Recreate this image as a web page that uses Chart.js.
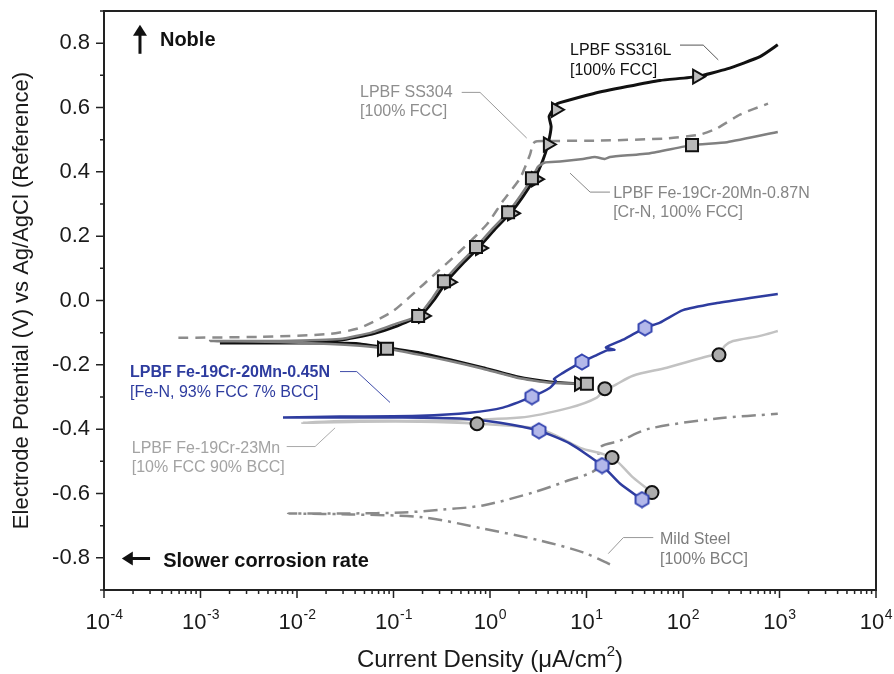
<!DOCTYPE html>
<html>
<head>
<meta charset="utf-8">
<title>Potentiodynamic polarisation</title>
<script src="https://cdn.jsdelivr.net/npm/chart.js@4.4.0/dist/chart.umd.min.js"></script>
<style>
    body { margin: 0; background: #fff; }
    #wrap { width: 894px; height: 674px; }
</style>
</head>
<body>
<div id="wrap"><canvas id="polarisation-chart"></canvas></div>
<script>
// [current density (uA/cm2), potential (V vs Ag/AgCl)] - cathodic branch first, then anodic
const ss316L = [
    [8.36, -0.259], [4.19, -0.253], [1.905, -0.237], [0.846, -0.209], [0.385, -0.184],
    [0.188, -0.163], [0.0857, -0.147], [0.045, -0.135], [0.028, -0.132], [0.0107, -0.132],
    [0.00159, -0.132],
    [0.0107, -0.129], [0.028, -0.123], [0.06, -0.104], [0.11, -0.079], [0.193, -0.045],
    [0.268, 0.005], [0.357, 0.060], [0.526, 0.116], [0.77, 0.166], [1.13, 0.222],
    [1.65, 0.274], [2.2, 0.324], [2.9, 0.380], [3.5, 0.433], [3.98, 0.485],
    [4.3, 0.54], [4.1, 0.572], [4.5, 0.594], [4.83, 0.609], [5.31, 0.615],
    [11.7, 0.643], [26.3, 0.665], [57.7, 0.684], [140, 0.696], [286, 0.72],
    [629, 0.758], [960, 0.795]
];
const ss316LMarks = [
    [0.076, -0.150], [8.36, -0.259], [0.202, -0.048], [0.376, 0.057], [0.788, 0.163],
    [1.69, 0.271], [3.0, 0.377], [3.98, 0.485], [4.83, 0.593], [140, 0.696]
];

const ss304 = [
    [0.00059, -0.116], [0.0041, -0.113], [0.022, -0.104], [0.045, -0.085], [0.099, -0.033],
    [0.222, 0.060], [0.489, 0.153], [0.93, 0.237], [1.36, 0.309], [2.05, 0.380],
    [2.6, 0.454], [2.79, 0.488], [3.07, 0.495], [13.8, 0.497], [68, 0.504],
    [150, 0.516], [225, 0.535], [389, 0.578], [760, 0.612]
];

const crN087 = [
    [10.1, -0.259], [4.19, -0.256], [1.905, -0.240], [0.846, -0.212], [0.385, -0.188],
    [0.188, -0.169], [0.0857, -0.150], [0.045, -0.141], [0.022, -0.135], [0.0067, -0.129],
    [0.00126, -0.126],
    [0.0067, -0.126], [0.028, -0.120], [0.06, -0.099], [0.109, -0.071], [0.18, -0.048],
    [0.25, 0.005], [0.333, 0.060], [0.49, 0.116], [0.716, 0.166], [1.05, 0.222],
    [1.54, 0.274], [2.05, 0.324], [2.72, 0.380], [3.14, 0.416], [3.71, 0.429],
    [5.31, 0.432], [9.2, 0.44], [12.2, 0.446], [15.5, 0.440], [17.5, 0.446],
    [45.5, 0.458], [124, 0.483], [286, 0.492], [960, 0.524]
];
const crN087Marks = [
    [0.0857, -0.150], [10.1, -0.259], [0.18, -0.048], [0.333, 0.060], [0.716, 0.166],
    [1.54, 0.274], [2.72, 0.380], [124, 0.483]
];

const feN045 = [
    [37.6, -0.619], [22.2, -0.569], [14.5, -0.513], [6.75, -0.445], [3.22, -0.405],
    [1.27, -0.380], [0.489, -0.367], [0.117, -0.364], [0.028, -0.364], [0.00716, -0.364],
    [0.028, -0.361], [0.188, -0.358], [0.62, -0.349], [1.36, -0.333], [2.72, -0.299],
    [4.19, -0.271], [4.83, -0.25], [4.6, -0.244], [5.71, -0.225], [6.75, -0.212],
    [8.98, -0.191], [12.2, -0.172], [16.3, -0.155], [19.5, -0.153], [15.9, -0.146],
    [25, -0.119], [40.4, -0.085], [57.7, -0.069], [100, -0.030], [225, -0.008],
    [494, 0.008], [960, 0.020]
];
const feN045Marks = [
    [2.72, -0.299], [8.98, -0.191], [40.4, -0.085], [3.22, -0.405], [14.5, -0.513], [37.6, -0.619]
];

const cr23Mn = [
    [47.7, -0.597], [30.3, -0.550], [18.4, -0.488], [8.6, -0.458], [5.31, -0.426],
    [3.07, -0.398], [0.733, -0.383], [0.188, -0.377], [0.045, -0.377], [0.0113, -0.380],
    [0.045, -0.374], [0.188, -0.374], [2.05, -0.364], [6.75, -0.333], [12.8, -0.302],
    [15.5, -0.274], [18.4, -0.268], [30.3, -0.234], [68, -0.209], [190, -0.172],
    [236, -0.169], [271, -0.141], [330, -0.126], [629, -0.110], [960, -0.095]
];
const cr23MnMarks = [
    [0.733, -0.383], [15.5, -0.274], [236, -0.169], [18.4, -0.488], [47.7, -0.597]
];

const mildSteel = [
    [17.5, -0.820], [9.2, -0.783], [3.30, -0.746], [0.846, -0.709], [0.202, -0.674],
    [0.0355, -0.665], [0.00807, -0.662],
    [0.0355, -0.662], [0.125, -0.659], [0.326, -0.650], [0.846, -0.637], [2.79, -0.597],
    [5.98, -0.563], [12.8, -0.523], [13.8, -0.457], [22.2, -0.436], [45.5, -0.398],
    [225, -0.367], [960, -0.352]
];

const yTicks = [-0.8, -0.6, -0.4, -0.2, 0.0, 0.2, 0.4, 0.6, 0.8];
const yMinorTicks = [-0.9, -0.7, -0.5, -0.3, -0.1, 0.1, 0.3, 0.5, 0.7, 0.9];
const xDecades = [-4, -3, -2, -1, 0, 1, 2, 3, 4];

const FONT = "'Liberation Sans', Arial, Helvetica, sans-serif";
const BLUE = '#2e3c9f';

// labels with leader lines, placed in data units
const notes = [
    { lines: ['LPBF SS316L', '[100% FCC]'], at: [6.75, 0.763], color: '#111', lead: '#555',
      leader: [[93.1, 0.794], [162, 0.794], [232, 0.748]] },
    { lines: ['LPBF SS304', '[100% FCC]'], at: [0.045, 0.634], color: '#8e8e8e', lead: '#999',
      leader: [[0.509, 0.647], [0.788, 0.647], [2.40, 0.505]] },
    { lines: ['LPBF Fe-19Cr-20Mn-0.87N', '[Cr-N, 100% FCC]'], at: [18.9, 0.319], color: '#858585', lead: '#888',
      leader: [[6.75, 0.396], [10.9, 0.337], [17.5, 0.337]] },
    { lines: ['LPBF Fe-19Cr-20Mn-0.45N', '[Fe-N, 93% FCC 7% BCC]'], at: [1.86e-4, -0.239], color: BLUE, lead: '#3d4aa8',
      bold: true, leader: [[0.0279, -0.221], [0.0416, -0.221], [0.092, -0.317]] },
    { lines: ['LPBF Fe-19Cr-23Mn', '[10% FCC 90% BCC]'], at: [1.94e-4, -0.474], color: '#a3a3a3', lead: '#aaa',
      leader: [[0.00782, -0.454], [0.0154, -0.454], [0.0248, -0.396]] },
    { lines: ['Mild Steel', '[100% BCC]'], at: [57.8, -0.758], color: '#7d7d7d', lead: '#999',
      leader: [[49.2, -0.737], [24.1, -0.737], [16.8, -0.787]] }
];

function pts(arr) {
    return arr.map(p => ({ x: p[0], y: p[1] }));
}

function hexagon(size, fill, stroke) {
    const c = document.createElement('canvas');
    c.width = c.height = size;
    const g = c.getContext('2d');
    const r = size / 2 - 1.5;
    g.beginPath();
    for (let k = 0; k < 6; k++) {
        const a = Math.PI / 3 * k - Math.PI / 2;
        g.lineTo(size / 2 + r * Math.cos(a), size / 2 + r * Math.sin(a));
    }
    g.closePath();
    g.fillStyle = fill;
    g.fill();
    g.lineWidth = 2;
    g.strokeStyle = stroke;
    g.stroke();
    return c;
}

function curve(data, color, width, dash, order, tension) {
    return {
        data: pts(data), showLine: true, borderColor: color, borderWidth: width,
        borderDash: dash || [], pointRadius: 0, tension: tension, order: order
    };
}

function marks(data, style, radius, fill, stroke, order, rotation) {
    return {
        data: pts(data), showLine: false, pointStyle: style, pointRadius: radius,
        backgroundColor: fill, borderColor: stroke, borderWidth: 2,
        rotation: rotation || 0, order: order
    };
}

function arrow(ctx, x0, y0, x1, y1) {
    const ang = Math.atan2(y1 - y0, x1 - x0);
    const hl = 11, hw = 7;
    ctx.beginPath();
    ctx.moveTo(x0, y0);
    ctx.lineTo(x1 - hl * Math.cos(ang) * 0.8, y1 - hl * Math.sin(ang) * 0.8);
    ctx.lineWidth = 3;
    ctx.stroke();
    ctx.beginPath();
    ctx.moveTo(x1, y1);
    ctx.lineTo(x1 - hl * Math.cos(ang) + hw * Math.sin(ang), y1 - hl * Math.sin(ang) - hw * Math.cos(ang));
    ctx.lineTo(x1 - hl * Math.cos(ang) - hw * Math.sin(ang), y1 - hl * Math.sin(ang) + hw * Math.cos(ang));
    ctx.closePath();
    ctx.fill();
}

const axisDecor = {
    id: 'axisDecor',
    afterDraw(chart) {
        const { ctx, chartArea: a, scales: { x, y } } = chart;
        const px = v => x.getPixelForValue(v);
        const py = v => y.getPixelForValue(v);
        ctx.save();

        // frame
        ctx.strokeStyle = '#222';
        ctx.lineWidth = 2;
        ctx.strokeRect(a.left, a.top, a.right - a.left, a.bottom - a.top);

        // ticks
        ctx.lineWidth = 1.5;
        ctx.beginPath();
        yTicks.forEach(v => { ctx.moveTo(a.left - 8, py(v)); ctx.lineTo(a.left, py(v)); });
        yMinorTicks.forEach(v => { ctx.moveTo(a.left - 4, py(v)); ctx.lineTo(a.left, py(v)); });
        xDecades.forEach(d => {
            ctx.moveTo(px(Math.pow(10, d)), a.bottom);
            ctx.lineTo(px(Math.pow(10, d)), a.bottom + 8);
            if (d < 4) {
                for (let k = 2; k <= 9; k++) {
                    const xx = px(k * Math.pow(10, d));
                    ctx.moveTo(xx, a.bottom);
                    ctx.lineTo(xx, a.bottom + 4);
                }
            }
        });
        ctx.stroke();

        // tick labels
        ctx.fillStyle = '#1a1a1a';
        ctx.font = '22px ' + FONT;
        ctx.textAlign = 'right';
        ctx.textBaseline = 'middle';
        yTicks.forEach(v => ctx.fillText(v.toFixed(1), a.left - 14, py(v)));

        ctx.textBaseline = 'alphabetic';
        ctx.textAlign = 'left';
        xDecades.forEach(d => {
            const base = '10', exp = String(d);
            ctx.font = '22px ' + FONT;
            const wb = ctx.measureText(base).width;
            ctx.font = '14px ' + FONT;
            const we = ctx.measureText(exp).width;
            const x0 = px(Math.pow(10, d)) - (wb + we) / 2;
            ctx.font = '22px ' + FONT;
            ctx.fillText(base, x0, a.bottom + 39);
            ctx.font = '14px ' + FONT;
            ctx.fillText(exp, x0 + wb + 0.5, a.bottom + 29);
        });

        // axis titles
        ctx.font = '24px ' + FONT;
        const t1 = 'Current Density (\u03bcA/cm', t2 = '2', t3 = ')';
        const w1 = ctx.measureText(t1).width, w3 = ctx.measureText(t3).width;
        ctx.font = '15px ' + FONT;
        const w2 = ctx.measureText(t2).width;
        let tx = (a.left + a.right) / 2 - (w1 + w2 + w3) / 2;
        ctx.font = '24px ' + FONT;
        ctx.fillText(t1, tx, 667);
        ctx.font = '15px ' + FONT;
        ctx.fillText(t2, tx + w1, 656);
        ctx.font = '24px ' + FONT;
        ctx.fillText(t3, tx + w1 + w2, 667);

        ctx.save();
        ctx.translate(22, (a.top + a.bottom) / 2);
        ctx.rotate(-Math.PI / 2);
        ctx.textAlign = 'center';
        ctx.textBaseline = 'middle';
        ctx.font = '22px ' + FONT;
        ctx.fillText('Electrode Potential (V) vs Ag/AgCl (Reference)', 0, 0);
        ctx.restore();

        // labels with leaders
        notes.forEach(n => {
            ctx.strokeStyle = n.lead;
            ctx.lineWidth = 1;
            ctx.beginPath();
            n.leader.forEach((p, i) => {
                if (i === 0) ctx.moveTo(px(p[0]), py(p[1]));
                else ctx.lineTo(px(p[0]), py(p[1]));
            });
            ctx.stroke();
            ctx.fillStyle = n.color;
            ctx.textAlign = 'left';
            n.lines.forEach((s, i) => {
                ctx.font = (n.bold && i === 0 ? 'bold ' : '') + '16px ' + FONT;
                ctx.fillText(s, px(n.at[0]), py(n.at[1]) + i * 19.5);
            });
        });

        // direction hints
        ctx.fillStyle = '#111';
        ctx.strokeStyle = '#111';
        arrow(ctx, px(2.36e-4), py(0.767), px(2.36e-4), py(0.857));
        arrow(ctx, px(3.0e-4), py(-0.802), px(1.53e-4), py(-0.802));
        ctx.font = 'bold 20px ' + FONT;
        ctx.fillText('Noble', px(3.8e-4), py(0.791));
        ctx.fillText('Slower corrosion rate', px(4.1e-4), py(-0.829));

        ctx.restore();
    }
};

const hexMark = hexagon(18, '#b3b8ea', '#3545b0');

new Chart(document.getElementById('polarisation-chart'), {
    type: 'scatter',
    data: {
        datasets: [
            curve(mildSteel, '#8a8a8a', 2.5, [14, 6, 3, 6], 10, 0.3),
            curve(ss304, '#8c8c8c', 2.5, [10, 7], 9, 0.2),
            curve(ss316L, '#111', 3, null, 8, 0.15),
            curve(crN087, '#808080', 2.5, null, 7, 0.15),
            curve(cr23Mn, '#c2c2c2', 2.5, null, 6, 0.3),
            curve(feN045, BLUE, 2.5, null, 5, 0.2),
            marks(ss316LMarks, 'triangle', 8, '#bdbdbd', '#111', 4, 90),
            marks(crN087Marks, 'rect', 8.5, '#b8b8b8', '#111', 3),
            marks(cr23MnMarks, 'circle', 6.5, '#acacac', '#111', 2),
            marks(feN045Marks, hexMark, 9, '#b3b8ea', '#3545b0', 1)
        ]
    },
    options: {
        responsive: true,
        maintainAspectRatio: false,
        animation: false,
        events: [],
        layout: { padding: { top: 10, right: 18, left: 0, bottom: 0 } },
        plugins: { legend: { display: false }, tooltip: { enabled: false } },
        scales: {
            x: {
                type: 'logarithmic', min: 1e-4, max: 1e4,
                ticks: { display: false }, grid: { display: false }, border: { display: false },
                afterFit: s => { s.height = 84; }
            },
            y: {
                min: -0.9, max: 0.9,
                ticks: { display: false }, grid: { display: false }, border: { display: false },
                afterFit: s => { s.width = 104; }
            }
        }
    },
    plugins: [axisDecor]
});
</script>
</body>
</html>
